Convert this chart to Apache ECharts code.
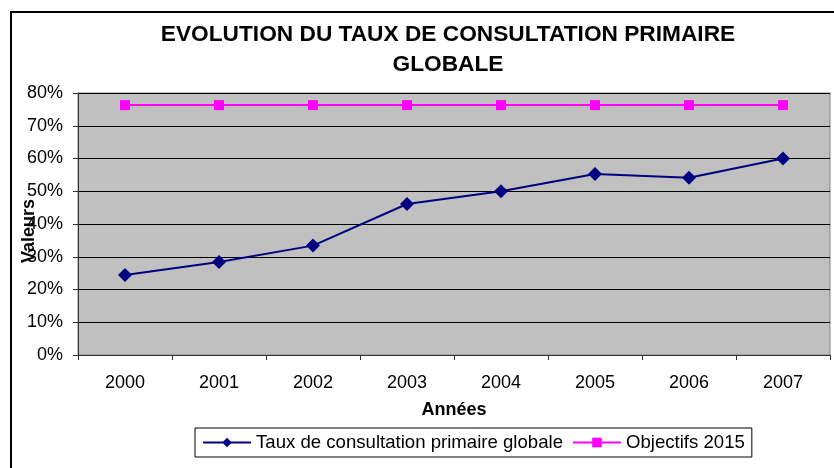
<!DOCTYPE html>
<html>
<head>
<meta charset="utf-8">
<script src="https://cdn.jsdelivr.net/npm/echarts@6/dist/echarts.min.js"></script>
<style>
  html, body { margin: 0; padding: 0; background: #fff; }
  #chart { width: 834px; height: 468px; }
</style>
</head>
<body>
<div id="chart"></div>
<script>
// years on the x axis
const years = ['2000', '2001', '2002', '2003', '2004', '2005', '2006', '2007']
// taux de consultation primaire globale (%)
const tauxValues = [24.4, 28.4, 33.4, 46.1, 50.0, 55.3, 54.1, 60.0]
// objectif 2015 (%)
const objectifValues = [76.3, 76.3, 76.3, 76.3, 76.3, 76.3, 76.3, 76.3]

const font = 'Liberation Sans, Arial, sans-serif'

const chart = echarts.init(document.getElementById('chart'))

chart.setOption({
  backgroundColor: '#fff',
  animation: false,
  title: {
    text: 'EVOLUTION DU TAUX DE CONSULTATION PRIMAIRE\nGLOBALE',
    left: 443,
    textAlign: 'center',
    top: 15,
    textStyle: {
      fontFamily: font,
      fontSize: 22.7,
      fontWeight: 'bold',
      color: '#000',
      lineHeight: 30
    }
  },
  graphic: [{
    type: 'rect',
    shape: { x: 11, y: 12, width: 900, height: 500 },
    style: { fill: 'none', stroke: '#000', lineWidth: 2 },
    silent: true
  }],
  grid: {
    left: 78,
    right: 4,
    top: 93,
    bottom: 113,
    outerBoundsMode: 'none',
    containLabel: false,
    show: true,
    backgroundColor: '#c0c0c0',
    borderColor: '#808080',
    borderWidth: 1
  },
  legend: {
    left: 195,
    top: 428,
    padding: [5, 7],
    itemGap: 9,
    itemWidth: 48,
    itemHeight: 12,
    borderColor: '#000',
    borderWidth: 1,
    textStyle: { fontFamily: font, fontSize: 18.6, color: '#000' },
    data: ['Taux de consultation primaire globale', 'Objectifs 2015']
  },
  xAxis: {
    type: 'category',
    data: years,
    name: 'Années',
    nameLocation: 'middle',
    nameGap: 46,
    nameTextStyle: { fontFamily: font, fontSize: 18, fontWeight: 'bold', color: '#000' },
    axisLine: { lineStyle: { color: '#333', width: 1 } },
    axisTick: { show: true, length: 5, lineStyle: { color: '#333' } },
    axisLabel: { fontFamily: font, fontSize: 18, color: '#000', margin: 19 },
    splitLine: { show: false }
  },
  yAxis: {
    type: 'value',
    min: 0,
    max: 80,
    interval: 10,
    name: 'Valeurs',
    nameLocation: 'middle',
    nameRotate: 90,
    nameGap: 40,
    nameMoveOverlap: false,
    nameTextStyle: {
      fontFamily: font,
      fontSize: 18,
      fontWeight: 'bold',
      color: '#000',
      padding: [0, 14, 0, 0]
    },
    axisLine: { show: true, lineStyle: { color: '#333', width: 1 } },
    axisTick: { show: true, length: 5, lineStyle: { color: '#333' } },
    axisLabel: { fontFamily: font, fontSize: 18, color: '#000', margin: 15, formatter: '{value}%' },
    splitLine: { show: true, lineStyle: { color: '#000', width: 1 } }
  },
  series: [
    {
      name: 'Taux de consultation primaire globale',
      type: 'line',
      data: tauxValues,
      symbol: 'diamond',
      symbolSize: 14,
      lineStyle: { color: '#000080', width: 2 },
      itemStyle: { color: '#000080' }
    },
    {
      name: 'Objectifs 2015',
      type: 'line',
      data: objectifValues,
      symbol: 'rect',
      symbolSize: 10,
      lineStyle: { color: '#ff00ff', width: 2 },
      itemStyle: { color: '#ff00ff' }
    }
  ]
})
</script>
</body>
</html>
